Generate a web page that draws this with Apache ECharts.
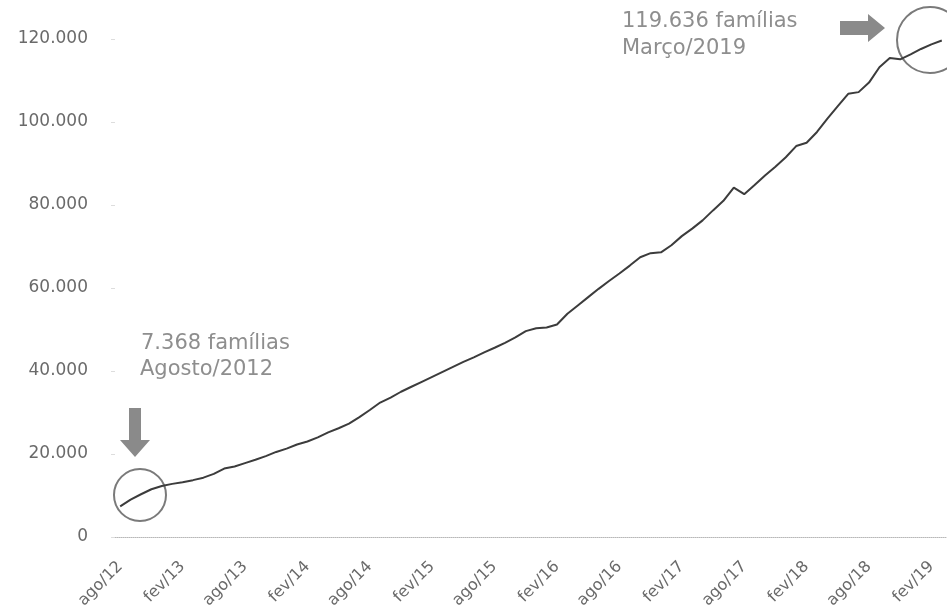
<!DOCTYPE html>
<html>
<head>
<meta charset="utf-8">
<script src="https://cdn.jsdelivr.net/npm/echarts@6/dist/echarts.min.js"></script>
<style>
  html, body { margin: 0; padding: 0; background: #fff; }
  #chart { width: 947px; height: 614px; }
</style>
</head>
<body>
<div id="chart"></div>
<script>
const categories = [
  'ago/12','set/12','out/12','nov/12','dez/12',
  'jan/13','fev/13','mar/13','abr/13','mai/13','jun/13','jul/13','ago/13','set/13','out/13','nov/13','dez/13',
  'jan/14','fev/14','mar/14','abr/14','mai/14','jun/14','jul/14','ago/14','set/14','out/14','nov/14','dez/14',
  'jan/15','fev/15','mar/15','abr/15','mai/15','jun/15','jul/15','ago/15','set/15','out/15','nov/15','dez/15',
  'jan/16','fev/16','mar/16','abr/16','mai/16','jun/16','jul/16','ago/16','set/16','out/16','nov/16','dez/16',
  'jan/17','fev/17','mar/17','abr/17','mai/17','jun/17','jul/17','ago/17','set/17','out/17','nov/17','dez/17',
  'jan/18','fev/18','mar/18','abr/18','mai/18','jun/18','jul/18','ago/18','set/18','out/18','nov/18','dez/18',
  'jan/19','fev/19','mar/19'
];

const familias = [
  7368, 9000, 10300, 11500, 12300,
  12800, 13200, 13700, 14300, 15200, 16500, 17000, 17800, 18600, 19500, 20500, 21300,
  22300, 23000, 24000, 25200, 26200, 27300, 28900, 30600, 32400, 33600, 35000, 36200,
  37400, 38600, 39800, 41000, 42200, 43300, 44500, 45600, 46800, 48100, 49600, 50300,
  50500, 51200, 53800, 55800, 57800, 59800, 61700, 63500, 65400, 67400, 68400, 68600,
  70300, 72500, 74300, 76300, 78700, 81000, 84200, 82600, 84800, 87100, 89200, 91500,
  94200, 95000, 97600, 100800, 103800, 106800, 107200, 109500, 113200, 115400, 115100, 116300,
  117600, 118700, 119636
];

const yMin = 0, yMax = 120000, yStep = 20000;

const noteStart = ['7.368 famílias', 'Agosto/2012'];
const noteEnd = ['119.636 famílias', 'Março/2019'];

function fmt(v) {
  return String(v).replace(/\B(?=(\d{3})+(?!\d))/g, '.');
}

const chart = echarts.init(document.getElementById('chart'), null, { renderer: 'canvas' });
const annoColor = '#8e8e8e';

chart.setOption({
  animation: false,
  backgroundColor: '#ffffff',
  grid: { left: 115, right: 0, top: 39, bottom: 77, containLabel: false },
  xAxis: {
    type: 'category',
    data: categories,
    boundaryGap: true,
    axisLine: { show: true, lineStyle: { color: '#b8b8b8', type: 'dotted', width: 1 } },
    axisTick: { show: false },
    axisLabel: {
      interval: 5,
      rotate: 45,
      margin: 27,
      color: '#6a6a6a',
      fontFamily: 'DejaVu Sans',
      fontSize: 16
    },
    splitLine: { show: false }
  },
  yAxis: {
    type: 'value',
    min: yMin,
    max: yMax,
    interval: yStep,
    axisLine: { show: false },
    axisTick: { show: true, length: 4, lineStyle: { color: '#dddddd' } },
    splitLine: { show: false },
    axisLabel: {
      margin: 27,
      color: '#6a6a6a',
      fontFamily: 'DejaVu Sans',
      fontSize: 17,
      formatter: fmt
    }
  },
  series: [{
    type: 'line',
    data: familias,
    showSymbol: false,
    smooth: false,
    lineStyle: { color: '#3c3c3c', width: 2 }
  }],
  graphic: [
    { type: 'text', left: 141, top: 333, style: { text: noteStart[0], fill: annoColor, font: '21px "DejaVu Sans"' } },
    { type: 'text', left: 140, top: 359, style: { text: noteStart[1], fill: annoColor, font: '21px "DejaVu Sans"' } },
    { type: 'text', left: 622, top: 11, style: { text: noteEnd[0], fill: annoColor, font: '21px "DejaVu Sans"' } },
    { type: 'text', left: 622, top: 38, style: { text: noteEnd[1], fill: annoColor, font: '21px "DejaVu Sans"' } },
    { type: 'polygon', shape: { points: [[129,408],[141,408],[141,440],[150,440],[135,457],[120,440],[129,440]] }, style: { fill: '#8a8a8a' } },
    { type: 'polygon', shape: { points: [[840,21],[868,21],[868,14],[885,28],[868,42],[868,35],[840,35]] }, style: { fill: '#8a8a8a' } },
    { type: 'circle', shape: { cx: 140, cy: 495, r: 26 }, style: { fill: 'none', stroke: '#7a7a7a', lineWidth: 2 } },
    { type: 'circle', shape: { cx: 930, cy: 40, r: 33 }, style: { fill: 'none', stroke: '#7a7a7a', lineWidth: 2 } }
  ]
});
</script>
</body>
</html>
